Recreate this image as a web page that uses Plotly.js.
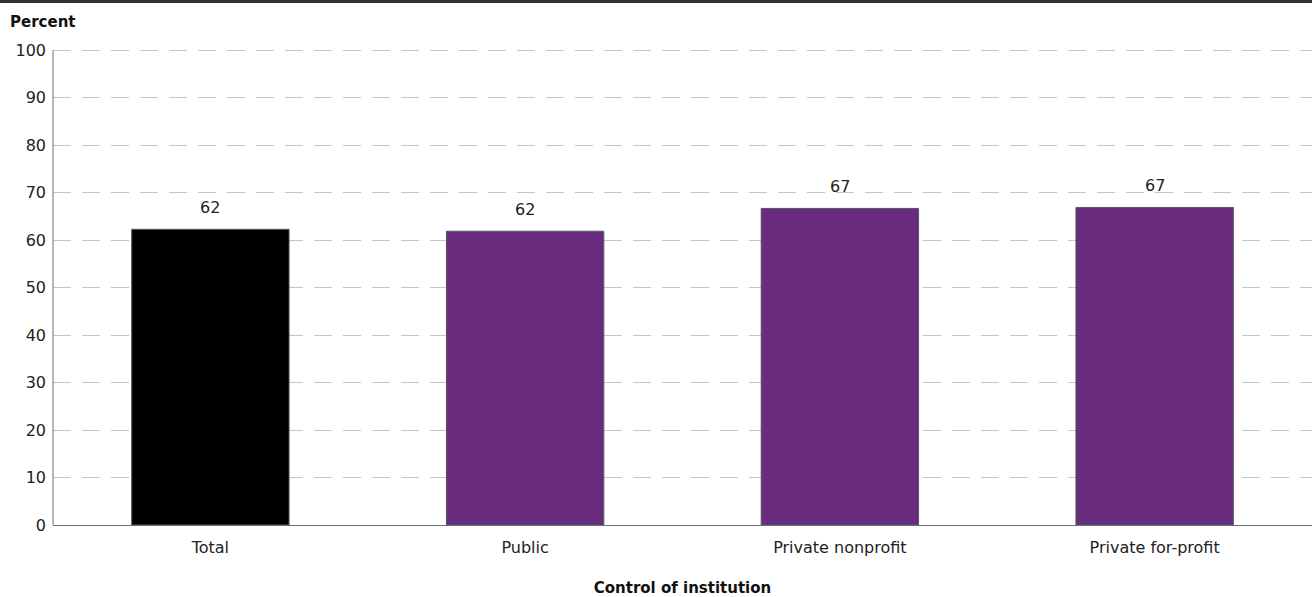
<!DOCTYPE html>
<html>
<head>
<meta charset="utf-8">
<script src="https://cdn.plot.ly/plotly-3.0.1.min.js"></script>
<style>
html,body{margin:0;padding:0;background:#fff;}
#chart{width:1312px;height:597px;box-sizing:border-box;border-top:3px solid #333;}
</style>
</head>
<body>
<div id="chart"></div>
<script>
const categories = ["Total", "Public", "Private nonprofit", "Private for-profit"];
const values = [62.3, 61.9, 66.7, 66.9];
const valueLabels = ["62", "62", "67", "67"];
const barColors = ["#000000", "#6a2c7f", "#6a2c7f", "#6a2c7f"];
const yTicks = [0, 10, 20, 30, 40, 50, 60, 70, 80, 90, 100];

const FONT = "'DejaVu Sans', 'Noto Sans', sans-serif";

const trace = {
  type: "bar",
  x: categories,
  y: values,
  width: 0.5,
  marker: {color: barColors, line: {color: "#55555f", width: 1}},
  hoverinfo: "none"
};

const annotations = categories.map((c, i) => ({
  x: c, y: values[i], xref: "x", yref: "y",
  text: valueLabels[i], showarrow: false,
  yanchor: "bottom", yshift: 10,
  font: {family: FONT, size: 16, color: "#222"}
}));

const layout = {
  width: 1312, height: 594,
  margin: {l: 53, r: 0, t: 45, b: 72, pad: 0},
  paper_bgcolor: "#fff", plot_bgcolor: "#fff",
  showlegend: false,
  title: {
    text: "<b>Percent</b>", xref: "container", yref: "container",
    x: 10/1312, xanchor: "left", y: 1 - 19/594, yanchor: "middle",
    font: {family: FONT, size: 15, color: "#111"}
  },
  xaxis: {
    type: "category",
    showline: true, linecolor: "#6e6e7a", linewidth: 1,
    ticks: "", showgrid: false,
    ticklabelstandoff: 8,
    tickfont: {family: FONT, size: 16, color: "#222"},
    title: {text: "<b>Control of institution</b>", standoff: 26,
            font: {family: FONT, size: 15, color: "#111"}},
    automargin: false
  },
  yaxis: {
    range: [0, 100.5], tickvals: yTicks, ticktext: yTicks.map(String),
    showline: false,
    ticks: "", ticklen: 0,
    ticklabelstandoff: 6,
    showgrid: true, gridcolor: "#c4c4cc", gridwidth: 1, griddash: "18px,11px",
    zeroline: false,
    tickfont: {family: FONT, size: 16, color: "#222"},
    automargin: false
  },
  shapes: [{
    type: "line", xref: "paper", yref: "y",
    x0: 0, x1: 0, y0: yTicks[0], y1: yTicks[yTicks.length - 1],
    line: {color: "#6e6e7a", width: 1}, layer: "above"
  }],
  annotations: annotations,
  bargap: 0.5
};

Plotly.newPlot("chart", [trace], layout, {displayModeBar: false, staticPlot: true});
</script>
</body>
</html>
